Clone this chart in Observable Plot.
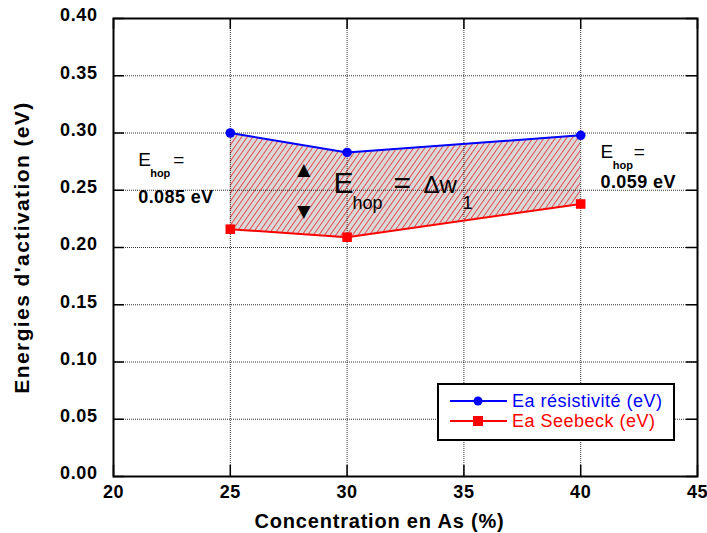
<!DOCTYPE html>
<html><head><meta charset="utf-8">
<script src="https://cdn.jsdelivr.net/npm/d3@7"></script>
<script src="https://cdn.jsdelivr.net/npm/@observablehq/plot@0.6"></script>
<style>
body{margin:0;background:#fff}
#wrap{position:relative;width:707px;height:533px}
#legend{position:absolute;left:437px;top:383px;width:238px;height:58px;box-sizing:border-box;border:2px solid #000;background:#fff;font-family:"Liberation Sans",Arial,sans-serif;font-size:18px;letter-spacing:0.5px}
#legend .row{position:absolute;left:11px;height:20px;display:flex;align-items:center;white-space:nowrap}
#legend .row svg{margin-right:5px}
</style></head>
<body>
<div id="wrap"></div>
<script>
// ---- data ----
const concentration = [25, 30, 40];
const eaResistivite = [0.300, 0.283, 0.298];
const eaSeebeck = [0.216, 0.209, 0.238];
const xTicks = [20, 25, 30, 35, 40, 45];
const yTicks = [0, 0.05, 0.10, 0.15, 0.20, 0.25, 0.30, 0.35, 0.40];
const seriesNames = ["Ea résistivité (eV)", "Ea Seebeck (eV)"];
const xLabel = "Concentration en As (%)";
const yLabel = "Energies d'activation (eV)";

const rows = concentration.map((x, i) => ({x, r: eaResistivite[i], s: eaSeebeck[i]}));

const W = 707, H = 533;
const mL = 113, mR = 10, mT = 18, mB = 57;
const innerW = W - mL - mR, innerH = H - mT - mB;
const tickLen = 11;
const FONT = '"Liberation Sans", Arial, sans-serif';

function label(text, x, y, fontSize, fontWeight = "normal", extra = {}) {
  return Plot.text([{x, y, text}], {x: "x", y: "y", text: "text", fontSize, fontWeight,
    textAnchor: "start", lineAnchor: "bottom", fill: "black", ...extra});
}

const chart = Plot.plot({
  width: W, height: H,
  marginLeft: mL, marginRight: mR, marginTop: mT, marginBottom: mB,
  style: {fontFamily: FONT, fontSize: "18px", color: "black", background: "white", overflow: "visible"},
  x: {domain: [20, 45]},
  y: {domain: [0, 0.4]},
  marks: [
    Plot.areaY(rows, {x: "x", y1: "s", y2: "r", fill: "url(#hatch)"}),
    Plot.ruleX(xTicks.slice(1, -1), {stroke: "#000", strokeOpacity: 0.8, strokeDasharray: "1,1", strokeWidth: 1}),
    Plot.ruleY(yTicks.slice(1, -1), {stroke: "#000", strokeOpacity: 0.8, strokeDasharray: "1,1", strokeWidth: 1}),
    Plot.line(rows, {x: "x", y: "r", stroke: "#0000ff", strokeWidth: 2}),
    Plot.line(rows, {x: "x", y: "s", stroke: "#ff0000", strokeWidth: 2}),
    Plot.dot(rows, {x: "x", y: "r", r: 4.8, fill: "#0000ff", symbol: "circle"}),
    Plot.dot(rows, {x: "x", y: "s", r: 5.4, fill: "#ff0000", symbol: "square"}),
    Plot.frame({stroke: "black", strokeWidth: 2}),
    Plot.tickY(yTicks, {y: d => d, insetRight: innerW - tickLen, stroke: "black", strokeWidth: 1.5}),
    Plot.tickY(yTicks, {y: d => d, insetLeft: innerW - tickLen, stroke: "black", strokeWidth: 1.5}),
    Plot.tickX(xTicks, {x: d => d, insetTop: innerH - tickLen, stroke: "black", strokeWidth: 1.5}),
    Plot.tickX(xTicks, {x: d => d, insetBottom: innerH - tickLen, stroke: "black", strokeWidth: 1.5}),
    Plot.axisX({ticks: xTicks, tickSize: 0, tickPadding: 9, label: null, fontWeight: "bold", fontSize: 18, tickFormat: d3.format("d")}),
    Plot.axisY({ticks: yTicks, tickSize: 0, tickPadding: 16, label: null, fontWeight: "bold", fontSize: 18, dy: -3, tickFormat: d3.format(".2f")}),
    // axis titles
    Plot.text([xLabel], {text: d => d, frameAnchor: "bottom", textAnchor: "middle", lineAnchor: "bottom", dy: 51, dx: -26, fontSize: 20, fontWeight: "bold", fill: "black"}),
    Plot.text([yLabel], {text: d => d, frameAnchor: "left", textAnchor: "middle", rotate: -90, lineAnchor: "middle", dx: -91, fontSize: 21, fontWeight: "bold", fill: "black"}),
    // left annotation
    label("E", 21.06, 0.2715, 19),
    label("=", 22.56, 0.2715, 19),
    label("hop", 21.57, 0.2619, 11, "bold"),
    label("0.085 eV", 21.06, 0.2392, 18, "bold"),
    // right annotation
    label("E", 40.85, 0.2785, 19),
    label("=", 42.27, 0.2785, 19),
    label("hop", 41.37, 0.2689, 11, "bold"),
    label("0.059 eV", 40.85, 0.2519, 18, "bold"),
    // centre annotation
    label("E", 29.42, 0.2480, 30),
    label("hop", 30.23, 0.2340, 18),
    label("=", 31.99, 0.2480, 30),
    label("Δw", 33.27, 0.2480, 24),
    label("1", 34.94, 0.2340, 18),
    Plot.text(["▲"], {text: d => d, x: () => 28.15, y: () => 0.2684, fontSize: 17, textAnchor: "middle", lineAnchor: "middle", fill: "black", fontFamily: "DejaVu Sans"}),
    Plot.text(["▼"], {text: d => d, x: () => 28.15, y: () => 0.2314, fontSize: 17, textAnchor: "middle", lineAnchor: "middle", fill: "black", fontFamily: "DejaVu Sans"})
  ]
});

// letter spacing tweaks (reference font renders slightly wider)
const spacing = new Map([[xLabel, "0.8"], [yLabel, "1.4"], ["0.085 eV", "0.4"], ["0.059 eV", "0.4"]]);
chart.querySelectorAll("text").forEach(t => {
  const s = spacing.get(t.textContent);
  if (s) t.setAttribute("letter-spacing", s);
});
chart.querySelectorAll('g[aria-label="x-axis tick label"] text, g[aria-label="y-axis tick label"] text')
  .forEach(t => t.setAttribute("letter-spacing", "0.6"));

// hatch pattern
const ns = "http://www.w3.org/2000/svg";
const defs = document.createElementNS(ns, "defs");
defs.innerHTML = `<pattern id="hatch" patternUnits="userSpaceOnUse" width="4.6" height="10" patternTransform="rotate(35)">
  <rect width="4.6" height="10" fill="#d9d9d9"/>
  <line x1="0.5" y1="0" x2="0.5" y2="10" stroke="#e8383d" stroke-width="0.9"/>
</pattern>`;
chart.insertBefore(defs, chart.firstChild);

const wrap = document.getElementById("wrap");
wrap.appendChild(chart);

// legend
const legend = document.createElement("div");
legend.id = "legend";
const legendItems = [
  {name: seriesNames[0], color: "#0000ff", sym: `<circle cx="28" cy="10" r="4.5" fill="#0000ff"/>`, top: 6},
  {name: seriesNames[1], color: "#ff0000", sym: `<rect x="23" y="5" width="10" height="10" fill="#ff0000"/>`, top: 26}
];
legend.innerHTML = legendItems.map(it =>
  `<div class="row" style="top:${it.top}px;color:${it.color}"><svg width="57" height="20"><line x1="0" y1="10" x2="57" y2="10" stroke="${it.color}" stroke-width="2"/>${it.sym}</svg><span>${it.name}</span></div>`
).join("");
wrap.appendChild(legend);
</script>
</body></html>
